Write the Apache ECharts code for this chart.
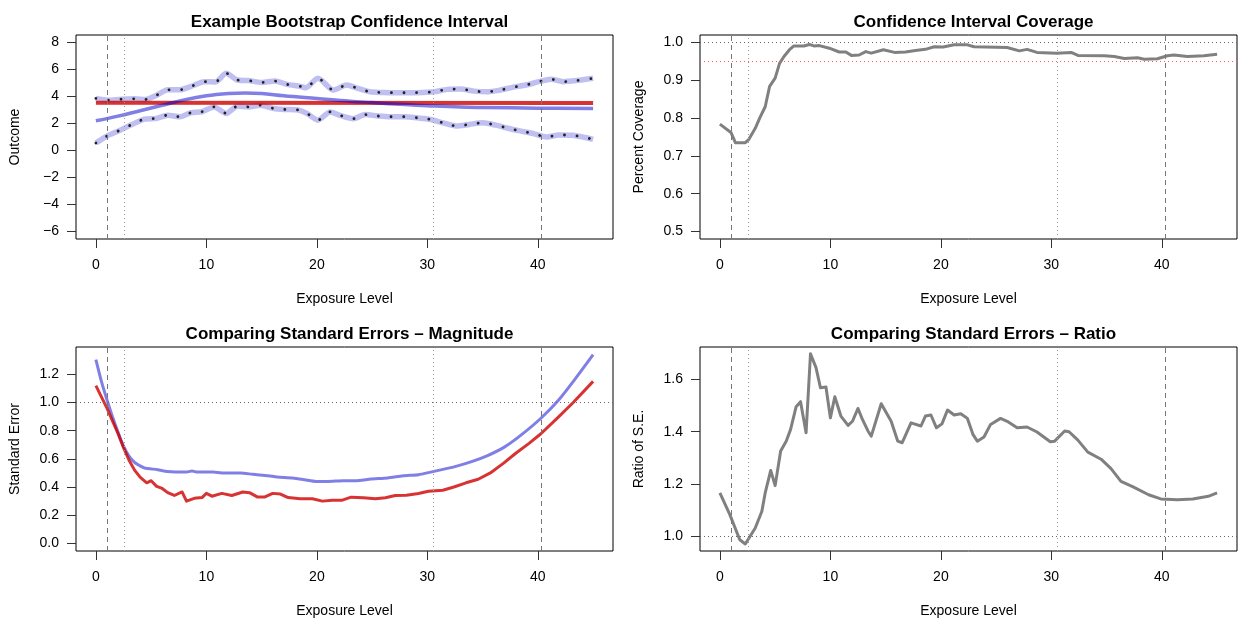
<!DOCTYPE html>
<html><head><meta charset="utf-8">
<script src="https://cdn.jsdelivr.net/npm/echarts@6/dist/echarts.min.js"></script>
<style>html,body{margin:0;padding:0;background:#fff}#c{width:1244px;height:625px}</style>
</head><body><div id="c"></div>
<script>
// ---------- shared ----------
const xTicks = [0, 10, 20, 30, 40];
const refDashed = [1.0, 40.35];
const refDotted = [2.55, 30.55];

// ---------- panel 1: Example Bootstrap Confidence Interval ----------
const yTicks1 = [-6, -4, -2, 0, 2, 4, 6, 8];
const upperX = [0,1.1,2.3,3.5,4.5,5.5,6.5,7.6,8.7,9.8,10.8,11.8,12.8,13.8,15,16.2,17.3,18.5,19.0,20.1,21.5,22.7,23.7,24.8,26,27.2,28.4,29.6,30.6,31.8,33,34.2,35.4,36.6,37.7,38.9,40.1,41.2,42.3,43.5,45];
const upperY = [3.86,3.73,3.8,3.83,3.78,4.1,4.5,4.5,4.78,5.1,5.08,5.72,5.22,5.18,5.04,5.15,4.9,4.75,4.65,5.35,4.48,4.85,4.6,4.35,4.3,4.28,4.28,4.3,4.35,4.53,4.55,4.4,4.35,4.48,4.68,4.85,5.1,5.28,5.1,5.18,5.35];
const lowerX = [0,1,2.1,3.2,4.4,5.5,6.5,7.6,8.6,9.6,10.7,11.8,12.8,13.8,14.9,16.1,17.1,18.3,19.1,20.1,21.2,22.1,23.3,24.4,25.5,26.7,27.9,29.1,30.3,31.4,32.6,33.8,35,36.2,37.2,38.4,39.6,40.8,41.9,43.1,44.3,45];
const lowerY = [0.55,1.07,1.47,1.9,2.33,2.38,2.62,2.5,2.8,2.87,3.23,2.75,3.28,3.23,3.36,3.11,3.04,3.0,2.75,2.25,2.86,2.6,2.36,2.66,2.56,2.5,2.5,2.42,2.3,2.05,1.82,1.93,2.05,1.88,1.67,1.45,1.25,1.0,1.15,1.13,0.96,0.82];
const fitX = [0,2,4,6,8,10,12,13.5,15,17,20,23,25,28,30,33,35,40,45];
const fitY = [2.2,2.55,2.95,3.35,3.75,4.05,4.22,4.27,4.22,4.05,3.85,3.65,3.55,3.4,3.32,3.22,3.19,3.14,3.12];
const trueX = [0, 45];
const trueY = [3.53, 3.52];

// ---------- panel 2: Confidence Interval Coverage ----------
const yTicks2 = [0.5, 0.6, 0.7, 0.8, 0.9, 1.0];
const covX = [0,1.0,1.4,2.3,2.6,3.2,3.6,4.1,4.5,5.0,5.4,5.8,6.3,6.7,7.6,8.1,8.5,9.0,9.9,10.8,11.4,11.9,12.6,13.2,13.7,14.8,15.8,16.8,17.7,18.6,19.4,20.2,21.2,22.4,23.0,26.0,27.1,27.8,28.7,30.5,31.8,32.4,34.8,35.7,36.6,37.8,38.4,39.6,40.5,41.1,42.3,43.8,45];
const covY = [0.784,0.762,0.735,0.735,0.743,0.773,0.8,0.83,0.884,0.906,0.945,0.963,0.981,0.991,0.991,0.995,0.991,0.992,0.985,0.975,0.975,0.966,0.967,0.976,0.972,0.981,0.974,0.975,0.979,0.982,0.989,0.988,0.994,0.994,0.989,0.987,0.978,0.982,0.974,0.972,0.974,0.966,0.965,0.963,0.958,0.96,0.956,0.957,0.965,0.967,0.963,0.965,0.969];
const covRef = [1.0];
const covNominal = [0.95];

// ---------- panel 3: Comparing Standard Errors - Magnitude ----------
const yTicks3 = [0.0, 0.2, 0.4, 0.6, 0.8, 1.0, 1.2];
const seBootX = [0,0.5,1,1.5,2,2.5,3,3.5,4,4.4,5.6,6.5,8.1,8.7,9.2,10.6,11.4,13.1,14.2,15.6,16.4,17.8,18.9,19.9,21,22.4,23.5,24.9,26.4,27.8,29.2,30.3,31.1,32.5,34,35.5,37,38.5,40.3,41.9,43.4,45];
const seBootY = [1.305,1.15,1.02,0.9,0.79,0.69,0.62,0.575,0.55,0.535,0.523,0.51,0.506,0.513,0.506,0.506,0.5,0.5,0.49,0.48,0.471,0.464,0.452,0.44,0.44,0.445,0.445,0.457,0.464,0.48,0.488,0.506,0.52,0.545,0.58,0.625,0.685,0.77,0.89,1.02,1.17,1.34];
const seModelX = [0,0.5,1,1.5,2,2.5,3,3.5,4,4.6,5,5.5,6,6.5,7.1,7.8,8.2,8.9,9.6,10,10.5,11.4,12.3,13.3,13.9,14.6,15.3,16,16.7,17.4,18.5,19.6,20.5,21.4,22.3,23.1,24.2,25.3,26.2,27.1,28.1,29.2,30.1,31.4,32.4,33.5,34.6,35.7,36.9,38,39.2,40.3,41.9,43.2,45];
const seModelY = [1.12,1.04,0.96,0.87,0.78,0.68,0.59,0.52,0.47,0.43,0.445,0.405,0.39,0.36,0.34,0.365,0.3,0.32,0.325,0.355,0.335,0.355,0.34,0.365,0.36,0.33,0.33,0.355,0.35,0.325,0.317,0.317,0.3,0.307,0.307,0.328,0.324,0.317,0.324,0.34,0.342,0.354,0.37,0.377,0.4,0.43,0.455,0.5,0.57,0.64,0.71,0.78,0.9,1.0,1.15];
const seRef = [1.0];

// ---------- panel 4: Comparing Standard Errors - Ratio ----------
const yTicks4 = [1.0, 1.2, 1.4, 1.6];
const ratioX = [0,0.9,1.8,2.3,3.2,3.8,4.1,4.6,5.0,5.5,6.0,6.4,6.9,7.3,7.8,8.2,8.7,9.1,9.6,10.0,10.4,10.95,11.6,12.0,12.5,12.9,13.4,13.7,14.6,15.5,16.1,16.5,17.3,18.2,18.6,19.1,19.6,20.1,20.6,21.2,21.8,22.4,22.9,23.3,23.9,24.5,25.4,26.0,26.9,27.8,28.7,29.9,30.3,31.2,31.6,32.4,33.3,34.5,35.4,36.3,37.4,38.8,39.9,41.4,42.8,44.2,45];
const ratioY = [1.166,1.083,0.987,0.971,1.032,1.096,1.166,1.252,1.194,1.326,1.364,1.409,1.496,1.515,1.396,1.698,1.645,1.568,1.571,1.453,1.534,1.46,1.424,1.44,1.489,1.447,1.403,1.383,1.507,1.44,1.364,1.358,1.434,1.422,1.46,1.464,1.415,1.43,1.483,1.464,1.469,1.451,1.39,1.364,1.38,1.428,1.451,1.44,1.415,1.418,1.399,1.362,1.364,1.403,1.4,1.368,1.322,1.295,1.259,1.21,1.189,1.159,1.143,1.14,1.143,1.153,1.166];
const ratioRef = [1.0];

// ---------- build ----------
const zip = (xs, ys) => xs.map((x, i) => [x, ys[i]]);
const FONT = "'Liberation Sans', Arial, Helvetica, sans-serif";
const grids = [
  {left: 76, top: 35, width: 537, height: 204},
  {left: 700, top: 35, width: 537, height: 204},
  {left: 76, top: 347, width: 537, height: 204},
  {left: 700, top: 347, width: 537, height: 204}
].map(g => Object.assign(g, {show: true, borderColor: '#000', borderWidth: 1, backgroundColor: 'transparent'}));

const titles = [
  'Example Bootstrap Confidence Interval',
  'Confidence Interval Coverage',
  'Comparing Standard Errors \u2013 Magnitude',
  'Comparing Standard Errors \u2013 Ratio'
];
const yNames = ['Outcome', 'Percent Coverage', 'Standard Error', 'Ratio of S.E.'];
const yRanges = [[-6.56, 8.56], [0.48, 1.02], [-0.054, 1.394], [0.944, 1.724]];
const yTickSets = [yTicks1, yTicks2, yTicks3, yTicks4];
const yFmt = [
  v => String(v).replace('-', '\u2212'),
  v => v.toFixed(1), v => v.toFixed(1), v => v.toFixed(1)
];

const xAxes = grids.map((g, i) => ({
  type: 'value', gridIndex: i, min: -1.8, max: 46.8, position: 'bottom',
  axisLine: {show: false, onZero: false}, splitLine: {show: false},
  axisTick: {show: true, inside: false, length: 9, customValues: xTicks, lineStyle: {color: '#333', width: 1}},
  axisLabel: {customValues: xTicks, margin: 19, fontSize: 14, color: '#000', fontFamily: FONT},
  name: 'Exposure Level', nameLocation: 'middle', nameGap: 53,
  nameTextStyle: {fontSize: 14, color: '#000', fontFamily: FONT}
}));
const yAxes = grids.map((g, i) => ({
  type: 'value', gridIndex: i, min: yRanges[i][0], max: yRanges[i][1], position: 'left',
  axisLine: {show: false, onZero: false}, splitLine: {show: false},
  axisTick: {show: true, inside: false, length: 9, customValues: yTickSets[i], lineStyle: {color: '#333', width: 1}},
  axisLabel: {customValues: yTickSets[i], margin: 17, fontSize: 14, color: '#000', fontFamily: FONT, formatter: yFmt[i]},
  name: yNames[i], nameLocation: 'middle', nameGap: 54,
  nameTextStyle: {fontSize: 14, color: '#000', fontFamily: FONT}
}));

// reference lines: one empty helper series per line style, so each markLine has its own style
const refSeries = (i, data, lineStyle) => ({
  type: 'line', xAxisIndex: i, yAxisIndex: i, data: [], silent: true, animation: false, z: 1,
  markLine: {silent: true, symbol: ['none', 'none'], label: {show: false}, emphasis: {disabled: true},
    animation: false, lineStyle: lineStyle, data: data}
});
const DASHED = {type: [5, 4], color: '#777', width: 1};
const DOTTED = {type: [1, 3], color: '#999', width: 1};
const HDOT = {type: [1, 3], color: '#666', width: 1};
const PINK = {type: [1, 3], color: '#FF5A5A', width: 1};
const vLines = vals => vals.map(v => ({xAxis: v}));
const hLines = vals => vals.map(v => ({yAxis: v}));
const vRefSeries = i => [refSeries(i, vLines(refDashed), DASHED), refSeries(i, vLines(refDotted), DOTTED)];

const line = (i, data, color, width, extra) => Object.assign({
  type: 'line', xAxisIndex: i, yAxisIndex: i, data: data, showSymbol: false, symbol: 'none',
  lineStyle: {color: color, width: width, cap: 'butt', join: 'round'}, silent: true, animation: false, z: 3
}, extra || {});
const dotted = (i, data) => line(i, data, '#222', 2.8, {smooth: 0.25, lineStyle: {color: '#222', width: 2.8, type: [0.1, 12.5], cap: 'round'}});

const BLUE = 'rgba(0,0,205,0.5)';
const BAND = 'rgba(0,0,205,0.25)';
const RED = 'rgba(205,0,0,0.8)';
const GRAY = '#808080';

const series = [
  // panel 1
  ...vRefSeries(0),
  line(0, zip(upperX, upperY), BAND, 5.5, {smooth: 0.25}),
  line(0, zip(lowerX, lowerY), BAND, 5.5, {smooth: 0.25}),
  dotted(0, zip(upperX, upperY)),
  dotted(0, zip(lowerX, lowerY)),
  line(0, zip(trueX, trueY), RED, 4),
  line(0, zip(fitX, fitY), BLUE, 3.5, {smooth: 0.4}),
  // panel 2
  ...vRefSeries(1),
  refSeries(1, hLines(covRef), HDOT),
  refSeries(1, hLines(covNominal), PINK),
  line(1, zip(covX, covY), GRAY, 3),
  // panel 3
  ...vRefSeries(2),
  refSeries(2, hLines(seRef), HDOT),
  line(2, zip(seBootX, seBootY), BLUE, 3, {smooth: 0.2}),
  line(2, zip(seModelX, seModelY), RED, 3),
  // panel 4
  ...vRefSeries(3),
  refSeries(3, hLines(ratioRef), HDOT),
  line(3, zip(ratioX, ratioY), GRAY, 3)
];

const option = {
  animation: false,
  backgroundColor: '#fff',
  title: titles.map((t, i) => ({
    text: t, left: grids[i].left + grids[i].width / 2, top: i < 2 ? 9 : 321, textAlign: 'center',
    textStyle: {fontSize: 17, fontWeight: 'bold', color: '#000', fontFamily: FONT}
  })),
  grid: grids, xAxis: xAxes, yAxis: yAxes, series: series
};
const chart = echarts.init(document.getElementById('c'), null, {renderer: 'canvas'});
chart.setOption(option);
</script></body></html>
